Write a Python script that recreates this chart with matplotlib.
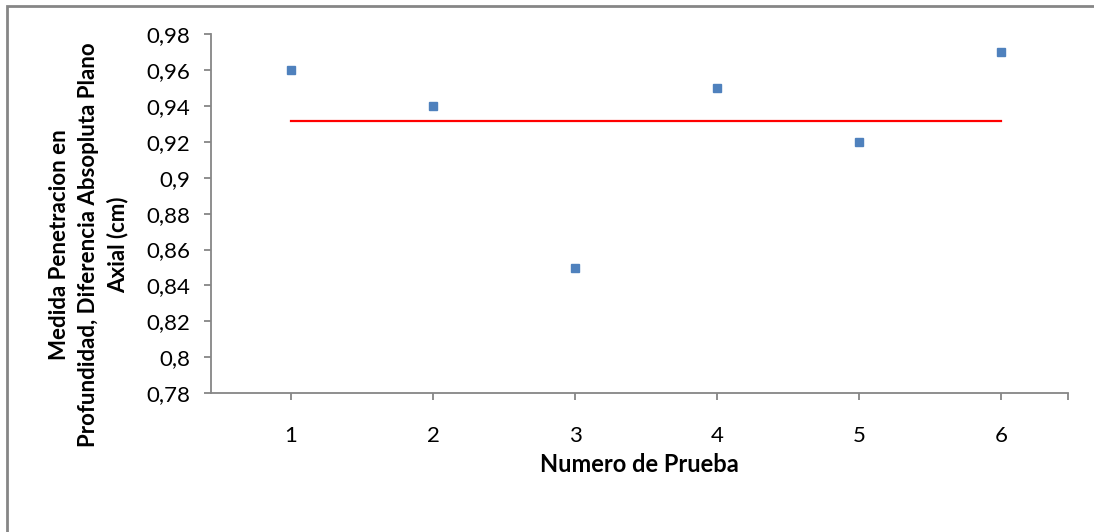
import matplotlib
matplotlib.use("Agg")
import matplotlib.pyplot as plt
from matplotlib.patches import Rectangle
from matplotlib.ticker import FuncFormatter

plt.rcParams["font.family"] = ["Lato", "DejaVu Sans"]

# test results
prueba = [1, 2, 3, 4, 5, 6]
penetracion = [0.96, 0.94, 0.85, 0.95, 0.92, 0.97]
y_ticks = [0.78, 0.80, 0.82, 0.84, 0.86, 0.88, 0.90, 0.92, 0.94, 0.96, 0.98]

media = sum(penetracion) / len(penetracion)

axis_gray = "#868686"

fig = plt.figure(figsize=(10.94, 5.32), dpi=100)
ax = fig.add_axes([0.1929, 0.2613, 0.7833, 0.6739])

# chart-area border (left and top edges visible)
fig.patches.append(Rectangle((7 / 1094, -0.1), 1.2, 0.1 + 1 - 6 / 532,
                             transform=fig.transFigure, fill=False,
                             edgecolor=axis_gray, linewidth=2))

ax.plot(prueba, penetracion, linestyle="none", marker="s", markersize=6.3,
        color="#4F81BD", zorder=3)
ax.plot([prueba[0], prueba[-1]], [media, media], color="red", linewidth=1.6)

ax.set_xlim(0.437, 6.47)
ax.set_ylim(0.78, 0.98)
ax.set_xticks(prueba)
ax.set_xticks([6.47], minor=True)
ax.set_yticks(y_ticks)
ax.yaxis.set_major_formatter(FuncFormatter(lambda v, _: f"{v:g}".replace(".", ",")))

for side in ("top", "right"):
    ax.spines[side].set_visible(False)
for side in ("left", "bottom"):
    ax.spines[side].set_color(axis_gray)
    ax.spines[side].set_linewidth(1.3)

ax.tick_params(axis="both", which="both", direction="out", length=5,
               width=1.3, color=axis_gray, labelsize=16, labelcolor="black")
ax.tick_params(axis="y", pad=10)
ax.tick_params(axis="x", pad=19)

ax.set_xlabel("Numero de Prueba", fontsize=17, fontweight="bold", labelpad=5)
ax.set_ylabel("Medida Penetracion en\nProfundidad, Diferencia Absopluta Plano\nAxial (cm)",
              fontsize=16, fontweight="bold", linespacing=1.45)
ax.yaxis.set_label_coords(-0.096, 0.413)

fig.savefig("out.png", dpi=100)
